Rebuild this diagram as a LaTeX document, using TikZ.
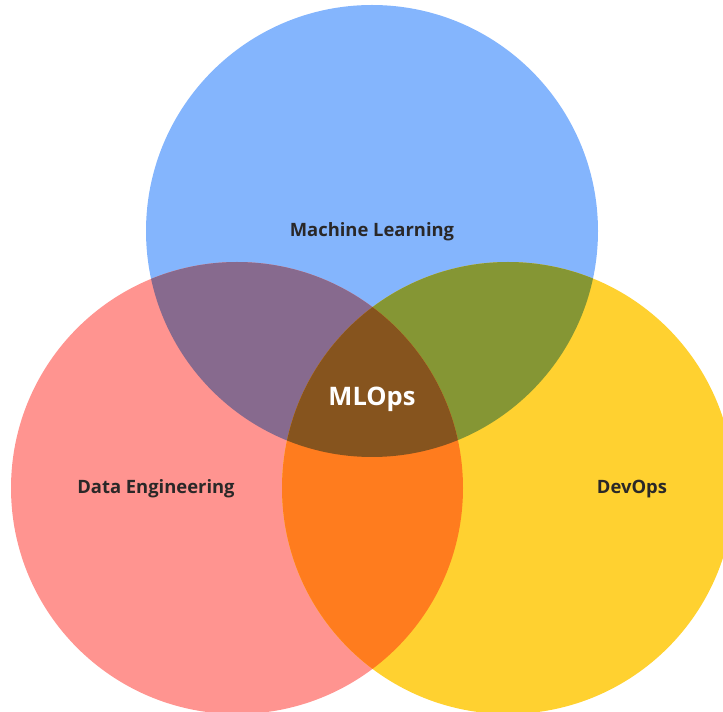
\documentclass[tikz,border=0pt]{standalone}
\usepackage{fontspec}
\setmainfont{Open Sans}
\definecolor{mlblue}{RGB}{132,181,253}
\definecolor{dered}{RGB}{255,148,144}
\definecolor{opsyellow}{RGB}{255,209,48}
\definecolor{purplemix}{RGB}{135,106,142}
\definecolor{olivemix}{RGB}{133,150,52}
\definecolor{orangemix}{RGB}{255,124,30}
\definecolor{brownmix}{RGB}{134,84,30}
\definecolor{labeltext}{RGB}{42,40,40}
\begin{document}
\begin{tikzpicture}[x=1pt,y=1pt,
  setlabel/.style={font=\bfseries\fontsize{18.4}{21}\selectfont, text=labeltext, inner sep=0pt},
  corelabel/.style={font=\bfseries\fontsize{25.5}{28}\selectfont, text=white, inner sep=0pt}]
\useasboundingbox (0,0) rectangle (723,712);
\def\rad{226}
\coordinate (ml) at (372,481);
\coordinate (de) at (237,224);
\coordinate (ops) at (508,224);
% the three sets
\fill[mlblue] (ml) circle (\rad);
\fill[dered] (de) circle (\rad);
\fill[opsyellow] (ops) circle (\rad);
% pairwise overlaps
\begin{scope}
  \clip (ml) circle (\rad);
  \fill[purplemix] (de) circle (\rad);
  \fill[olivemix] (ops) circle (\rad);
\end{scope}
\begin{scope}
  \clip (de) circle (\rad);
  \fill[orangemix] (ops) circle (\rad);
\end{scope}
% triple overlap
\begin{scope}
  \clip (ml) circle (\rad);
  \clip (de) circle (\rad);
  \fill[brownmix] (ops) circle (\rad);
\end{scope}
% labels
\node[setlabel] (mltext) at (372,480) {Machine Learning};
\node[setlabel] (detext) at (156,223) {Data Engineering};
\node[setlabel] (opstext) at (632,223) {DevOps};
\node[corelabel] (core) at (372,313) {MLOps};
\end{tikzpicture}
\end{document}
